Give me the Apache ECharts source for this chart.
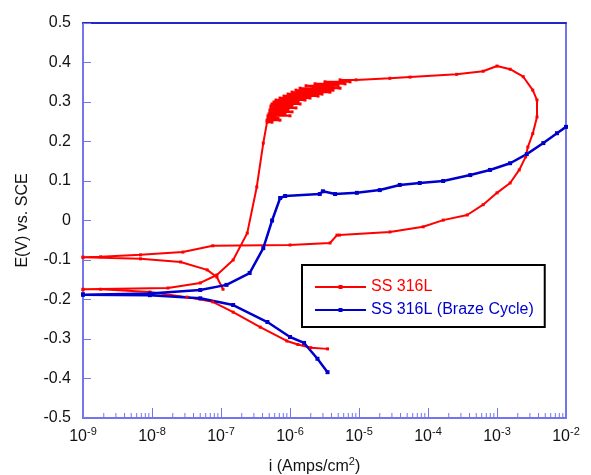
<!DOCTYPE html>
<html>
<head>
<meta charset="utf-8">
<script src="https://cdn.jsdelivr.net/npm/echarts@6/dist/echarts.min.js"></script>
<style>
  html, body { margin: 0; padding: 0; background: #fff; }
  #chart { width: 591px; height: 475px; }
</style>
</head>
<body>
<div id="chart"></div>
<script>
// SS 316L scan: current density (A/cm2) and potential (V vs SCE), in scan order
const redI = [
  3.5e-6, 2.0e-6, 1.3e-6, 9e-7, 3.7e-7, 1.5e-7, 7.6e-8, 3.2e-8, 9.3e-9, 1.8e-9, 1e-9,
  1e-9, 1.7e-8, 5e-8, 8.7e-8, 1.5e-7, 2.4e-7, 3.3e-7, 4.1e-7,
  // pitting noise band
  4.65e-7, 5.48e-7, 4.65e-7, 7.16e-7, 4.8e-7, 6.7e-7, 4.8e-7, 1.0e-6, 4.96e-7, 8.47e-7,
  5.13e-7, 1.07e-6, 5.13e-7, 9.35e-7, 5.3e-7, 1.22e-6, 5.3e-7, 1.07e-6, 5.48e-7, 1.4e-6,
  5.86e-7, 1.31e-6, 6.27e-7, 1.65e-6, 7.16e-7, 1.95e-6, 8.18e-7, 2.55e-6, 9.35e-7, 2.91e-6,
  1.07e-6, 3.8e-6, 1.22e-6, 4.2e-6, 1.4e-6, 5.31e-6, 1.71e-6, 4.97e-6, 2.3e-6, 6.27e-6,
  3.21e-6, 7.41e-6, 5.31e-6, 9.06e-6,
  2.8e-5, 5.5e-5, 2.6e-4, 6.3e-4, 1e-3, 1.55e-3, 2.4e-3, 3.3e-3, 3.8e-3, 3.8e-3,
  3.3e-3, 2.8e-3, 2.6e-3, 2.1e-3, 1.55e-3, 1e-3, 6.3e-4, 3.7e-4, 1.66e-4, 8.5e-5,
  2.8e-5, 5.2e-6, 4.8e-6, 3.8e-6, 1e-6, 7.6e-8, 2.8e-8, 6.8e-9, 1.8e-9, 1e-9,
  1e-9, 6.8e-9, 2.6e-8, 6.3e-8, 8.7e-8, 1.07e-7
];
const redE = [
  -0.325, -0.322, -0.314, -0.305, -0.270, -0.232, -0.206, -0.194, -0.181, -0.174, -0.174,
  -0.175, -0.171, -0.158, -0.138, -0.100, -0.032, 0.085, 0.196,
  0.249, 0.249, 0.254, 0.254, 0.259, 0.259, 0.265, 0.265, 0.270, 0.270,
  0.275, 0.275, 0.280, 0.280, 0.285, 0.285, 0.290, 0.290, 0.295, 0.295,
  0.300, 0.300, 0.305, 0.305, 0.310, 0.310, 0.315, 0.315, 0.320, 0.320,
  0.325, 0.325, 0.330, 0.330, 0.335, 0.335, 0.341, 0.341, 0.346, 0.346,
  0.351, 0.351, 0.356, 0.356,
  0.360, 0.363, 0.370, 0.378, 0.391, 0.383, 0.364, 0.330, 0.305, 0.262,
  0.220, 0.186, 0.161, 0.128, 0.095, 0.070, 0.040, 0.014, 0.001, -0.016,
  -0.029, -0.037, -0.037, -0.057, -0.062, -0.064, -0.080, -0.087, -0.092, -0.093,
  -0.093, -0.097, -0.105, -0.125, -0.143, -0.174
];

// SS 316L (Braze Cycle) scan
const blueI = [
  3.5e-6, 2.5e-6, 1.6e-6, 1e-6, 4.7e-7, 1.5e-7, 5e-8, 9.3e-9, 1e-9,
  1e-9, 9.3e-9, 5e-8, 1.2e-7, 2.6e-7, 4.1e-7, 5.5e-7, 7.2e-7, 8.5e-7,
  2.7e-6, 3.0e-6, 4.5e-6, 9.3e-6, 2e-5, 3.9e-5, 7.6e-5, 1.66e-4, 4.1e-4,
  7.9e-4, 1.55e-3, 2.7e-3, 4.7e-3, 7.4e-3, 1e-2
];
const blueE = [
  -0.384, -0.350, -0.310, -0.295, -0.257, -0.214, -0.197, -0.189, -0.188,
  -0.187, -0.185, -0.176, -0.163, -0.133, -0.070, 0.000, 0.057, 0.062,
  0.067, 0.074, 0.067, 0.070, 0.077, 0.090, 0.095, 0.100, 0.115,
  0.128, 0.145, 0.168, 0.196, 0.221, 0.237
];

const seriesNames = ['SS 316L', 'SS 316L (Braze Cycle)'];
const seriesColors = ['#ff0000', '#0000cc'];

// log-axis decoration: minor ticks at 2..9 within each decade
const decades = [-9, -8, -7, -6, -5, -4, -3];
const minorSteps = [2, 3, 4, 5, 6, 7, 8, 9];

const zip = (xs, ys) => xs.map((x, i) => [x, ys[i]]);
const minorTicks = [];
decades.forEach(d => minorSteps.forEach(m => minorTicks.push([m * Math.pow(10, d), -0.5])));

const chart = echarts.init(document.getElementById('chart'));
const font = 'Liberation Sans, Arial, sans-serif';
const axisBlue = '#7474ee';

chart.setOption({
  animation: false,
  textStyle: { fontFamily: font },
  grid: { left: 83, right: 25, top: 23, bottom: 57, outerBoundsMode: 'none' },
  legend: {
    left: 302,
    top: 265,
    orient: 'vertical',
    borderColor: '#000',
    borderWidth: 2,
    padding: [13, 11, 8, 12],
    itemGap: 5,
    itemWidth: 51,
    itemHeight: 5,
    data: seriesNames.map((n, i) => ({ name: n, textStyle: { color: seriesColors[i] } })),
    textStyle: { fontSize: 16, lineHeight: 18, fontFamily: font }
  },
  xAxis: [
    {
      type: 'log',
      logBase: 10,
      min: 1e-9,
      max: 1e-2,
      name: 'i (Amps/cm{s|2})',
      nameLocation: 'middle',
      nameGap: 38,
      nameTextStyle: {
        fontSize: 16, color: '#111', padding: [0, 20, 0, 0],
        rich: { s: { fontSize: 11, padding: [0, 0, 10, 0], color: '#111' } }
      },
      axisLine: { onZero: false, lineStyle: { color: axisBlue, width: 2 } },
      axisTick: { inside: true, length: 10, lineStyle: { color: axisBlue, width: 1 } },
      splitLine: { show: false },
      axisLabel: {
        margin: 8,
        color: '#111',
        formatter: v => '{b|10}{s|' + Math.round(Math.log10(v)) + '}',
        rich: {
          b: { fontSize: 16, color: '#111' },
          s: { fontSize: 11, color: '#111', padding: [0, 0, 10, 0] }
        }
      }
    },
    {
      type: 'log', min: 1e-9, max: 1e-2, position: 'top',
      axisLine: { onZero: false, lineStyle: { color: '#2626c8', width: 2 } },
      axisTick: { show: false }, axisLabel: { show: false }, splitLine: { show: false }
    }
  ],
  yAxis: [
    {
      type: 'value',
      min: -0.5,
      max: 0.5,
      interval: 0.1,
      name: 'E(V) vs. SCE',
      nameLocation: 'middle',
      nameGap: 52,
      nameTextStyle: { fontSize: 16, color: '#111' },
      axisLine: { show: true, onZero: false, lineStyle: { color: axisBlue, width: 2 } },
      axisTick: { show: true, inside: true, length: 8, lineStyle: { color: axisBlue } },
      splitLine: { show: false },
      axisLabel: {
        margin: 12, fontSize: 16, color: '#111',
        formatter: v => String(Math.round(v * 10) / 10)
      }
    },
    {
      type: 'value', min: -0.5, max: 0.5, position: 'right',
      axisLine: { show: true, onZero: false, lineStyle: { color: axisBlue, width: 2 } },
      axisTick: { show: false }, axisLabel: { show: false }, splitLine: { show: false }
    }
  ],
  series: [
    {
      name: seriesNames[0],
      type: 'line',
      data: zip(redI, redE),
      color: seriesColors[0],
      lineStyle: { width: 2 },
      symbol: 'rect',
      symbolSize: 3,
      showSymbol: true
    },
    {
      name: seriesNames[1],
      type: 'line',
      data: zip(blueI, blueE),
      color: seriesColors[1],
      lineStyle: { width: 2.5 },
      symbol: 'rect',
      symbolSize: 4,
      showSymbol: true
    },
    {
      type: 'custom',
      silent: true,
      data: minorTicks,
      renderItem: (params, api) => {
        const p = api.coord([api.value(0), api.value(1)]);
        return {
          type: 'line',
          shape: { x1: p[0], y1: p[1], x2: p[0], y2: p[1] - 5 },
          style: { stroke: axisBlue, lineWidth: 1 }
        };
      }
    }
  ]
});
</script>
</body>
</html>
